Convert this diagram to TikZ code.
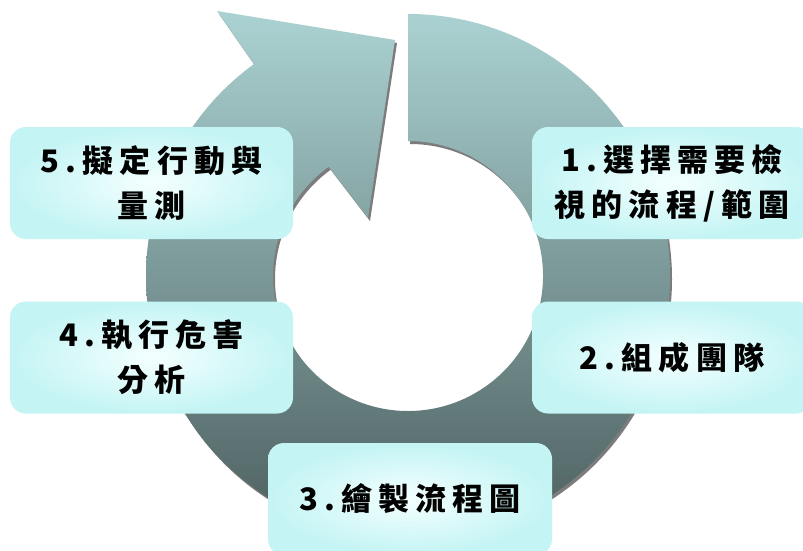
\documentclass[tikz,border=0pt]{standalone}
\usepackage{fontspec}
\newfontfamily\cjk[LetterSpace=20]{Noto Sans CJK TC}
\definecolor{ringtop}{HTML}{ABD2D2}
\definecolor{ringmid}{HTML}{87A9A9}
\definecolor{ringbot}{HTML}{4C5E5E}
\definecolor{shadowgray}{HTML}{7C7C7C}
\definecolor{boxin}{HTML}{F4FFFF}
\definecolor{boxout}{HTML}{C4F4F4}
\tikzset{
  box/.style={rounded corners=16pt, inner color=boxin, outer color=boxout,
    minimum width=283pt, minimum height=112pt, align=center,
    font=\cjk\bfseries\fontsize{31}{45}\selectfont, text=black}
}
\def\myringpath{(408,14) arc[start angle=-90,end angle=234,radius=262] -- (217,11) -- (395,40) -- (368,218) -- (328.65,166.78) arc[start angle=234,end angle=-90,radius=135] -- cycle}
\begin{document}
\begin{tikzpicture}[x=1pt,y=-1pt]
\useasboundingbox (0,0) rectangle (803,551);
\clip (0,0) rectangle (803,551);
\fill[white] (0,0) rectangle (803,551);
\begin{scope}[shift={(2,3)}]
\fill[shadowgray] \myringpath;
\end{scope}
\shade[top color=ringtop, middle color=ringmid, bottom color=ringbot] \myringpath;
\node[box] (b5) at (151.5,183) {5.擬定行動與\\量測};
\node[box] (b4) at (151.5,357.5) {4.執行危害\\分析};
\node[box, minimum width=280pt] (b1) at (672,183) {1.選擇需要檢\\視的流程/範圍};
\node[box, minimum width=280pt] (b2) at (672,357.5) {2.組成團隊};
\node[box, minimum width=284pt] (b3) at (410,499) {3.繪製流程圖};
\end{tikzpicture}
\end{document}
